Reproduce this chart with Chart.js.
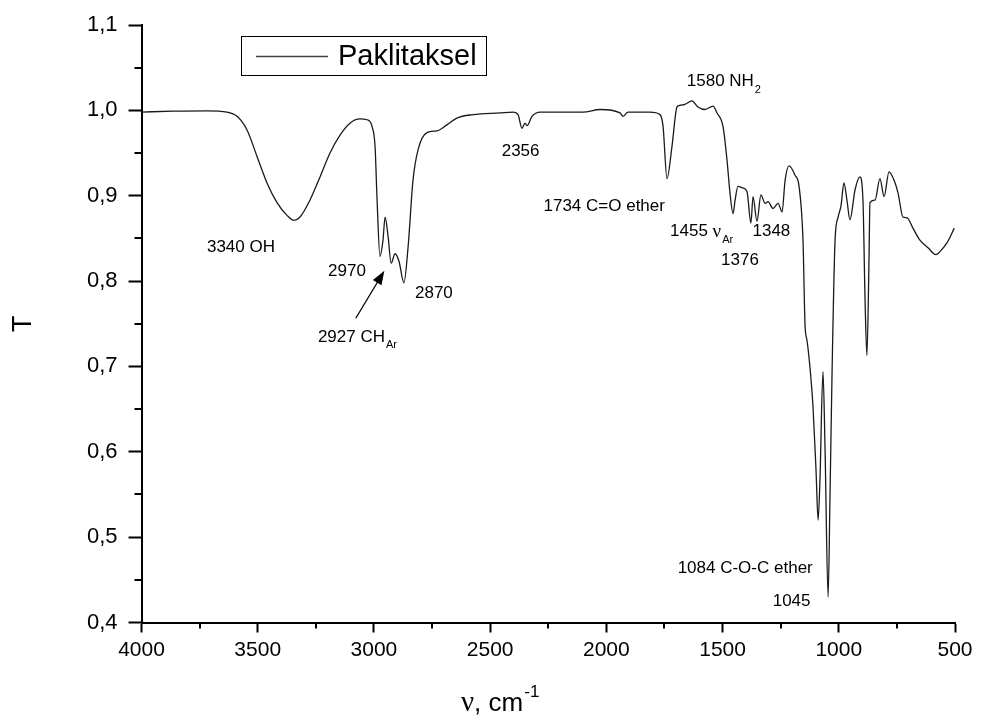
<!DOCTYPE html>
<html>
<head>
<meta charset="utf-8">
<title>Paklitaksel</title>
<script src="https://cdn.jsdelivr.net/npm/chart.js@4.4.1/dist/chart.umd.min.js"></script>
<style>
  html, body { margin: 0; padding: 0; background: #fff; }
  canvas { display: block; }
</style>
</head>
<body>
<canvas id="ir" width="981" height="722"></canvas>
<script>
// IR spectrum: wavenumber (cm-1) and transmittance
var wavenumber = [
  4000, 3864, 3718, 3632, 3589, 3546, 3503, 3460, 3417, 3374, 3344, 3318, 3275, 3232, 3189, 3146,
  3103, 3060, 3030, 3008, 2995, 2987, 2974, 2961, 2952, 2939, 2926, 2909, 2892, 2871, 2853, 2832,
  2810, 2772, 2729, 2686, 2643, 2574, 2458, 2402, 2380, 2363, 2350, 2341, 2320, 2285, 2242, 2199,
  2100, 2027, 1941, 1928, 1907, 1812, 1769, 1756, 1739, 1718, 1696, 1683, 1662, 1632, 1606, 1576,
  1541, 1524, 1498, 1481, 1468, 1455, 1446, 1434, 1412, 1395, 1378, 1369, 1352, 1335, 1317, 1304,
  1283, 1261, 1244, 1231, 1214, 1188, 1171, 1154, 1145, 1137, 1124, 1111, 1098, 1089, 1081, 1068,
  1059, 1046, 1038, 1029, 1016, 1003, 990, 978, 965, 952, 930, 909, 896, 887, 879, 870,
  866, 844, 823, 805, 784, 762, 745, 724, 706, 681, 651, 616, 582, 560, 534, 503
];
var transmittance = [
  0.998, 0.999, 0.9995, 0.998, 0.993, 0.977, 0.946, 0.915, 0.892, 0.877, 0.871, 0.875, 0.895, 0.922, 0.950, 0.971,
  0.985, 0.990, 0.989, 0.981, 0.957, 0.899, 0.829, 0.848, 0.875, 0.852, 0.821, 0.832, 0.823, 0.798, 0.840, 0.918,
  0.954, 0.974, 0.976, 0.983, 0.991, 0.995, 0.997, 0.998, 0.995, 0.979, 0.985, 0.982, 0.993, 0.998, 0.998, 0.998,
  0.998, 1.001, 0.997, 0.993, 0.998, 0.998, 0.995, 0.981, 0.920, 0.957, 1.004, 1.006, 1.007, 1.011, 1.004, 1.001,
  1.005, 0.997, 0.981, 0.942, 0.903, 0.879, 0.895, 0.911, 0.909, 0.905, 0.868, 0.899, 0.870, 0.901, 0.891, 0.893,
  0.885, 0.891, 0.881, 0.918, 0.935, 0.924, 0.911, 0.848, 0.747, 0.731, 0.699, 0.653, 0.579, 0.520, 0.567, 0.694,
  0.602, 0.430, 0.544, 0.692, 0.848, 0.875, 0.889, 0.915, 0.895, 0.872, 0.907, 0.922, 0.895, 0.778, 0.713, 0.825,
  0.892, 0.895, 0.920, 0.899, 0.928, 0.918, 0.903, 0.875, 0.874, 0.862, 0.848, 0.839, 0.831, 0.836, 0.845, 0.862
];
var seriesName = "Paklitaksel";

var xMinorTicks = [3750, 3250, 2750, 2250, 1750, 1250, 750];
var yMinorTicks = [0.45, 0.55, 0.65, 0.75, 0.85, 0.95, 1.05];

var SANS = '"Liberation Sans", Arial, sans-serif';
var SERIF = '"Liberation Serif", "Times New Roman", serif';

// peak labels, anchored in data units
var peakLabels = [
  { wn: 3572, t: 0.839, align: "center", parts: [{ s: "3340 OH" }] },
  { wn: 3116, t: 0.811, align: "center", parts: [{ s: "2970" }] },
  { wn: 2742, t: 0.786, align: "center", parts: [{ s: "2870" }] },
  { wn: 3241, t: 0.7345, align: "left", parts: [{ s: "2927 CH" }, { s: "Ar", sub: true }] },
  { wn: 2369, t: 0.9516, align: "center", parts: [{ s: "2356" }] },
  { wn: 1748, t: 0.888, align: "right", parts: [{ s: "1734 C=O ether" }] },
  { wn: 1654, t: 1.0336, align: "left", parts: [{ s: "1580 NH" }, { s: "2", sub: true }] },
  { wn: 1726, t: 0.858, align: "left", parts: [{ s: "1455 " }, { s: "ν", serif: true }, { s: "Ar", sub: true }] },
  { wn: 1290, t: 0.858, align: "center", parts: [{ s: "1348" }] },
  { wn: 1425, t: 0.8247, align: "center", parts: [{ s: "1376" }] },
  { wn: 1112, t: 0.4635, align: "right", parts: [{ s: "1084 C-O-C ether" }] },
  { wn: 1203, t: 0.4244, align: "center", parts: [{ s: "1045" }] }
];

function partFont(p) {
  if (p.sub) return "11px " + SANS;
  if (p.serif) return "19px " + SERIF;
  return "17px " + SANS;
}

function drawParts(ctx, parts, x, y, align) {
  var total = 0;
  parts.forEach(function (p) {
    ctx.font = partFont(p);
    total += ctx.measureText(p.s).width + (p.sub ? 1 : 0);
  });
  var cx = x;
  if (align === "center") cx = x - total / 2;
  if (align === "right") cx = x - total;
  ctx.textAlign = "left";
  ctx.textBaseline = "middle";
  parts.forEach(function (p) {
    ctx.font = partFont(p);
    if (p.sub) cx += 1;
    ctx.fillText(p.s, cx, p.sub ? y + 8 : y);
    cx += ctx.measureText(p.s).width;
  });
}

var decorPlugin = {
  id: "decor",
  afterDraw: function (chart) {
    var ctx = chart.ctx;
    var xs = chart.scales.x, ys = chart.scales.y;
    var area = chart.chartArea;
    ctx.save();
    ctx.fillStyle = "#000";
    ctx.strokeStyle = "#000";

    // minor ticks
    ctx.lineWidth = 2;
    ctx.beginPath();
    xMinorTicks.forEach(function (v) {
      var px = Math.round(xs.getPixelForValue(v));
      ctx.moveTo(px, area.bottom);
      ctx.lineTo(px, area.bottom + 6);
    });
    yMinorTicks.forEach(function (v) {
      var py = Math.round(ys.getPixelForValue(v));
      ctx.moveTo(area.left - 7, py);
      ctx.lineTo(area.left, py);
    });
    ctx.stroke();

    // peak labels
    peakLabels.forEach(function (l) {
      drawParts(ctx, l.parts, xs.getPixelForValue(l.wn), ys.getPixelForValue(l.t), l.align);
    });

    // arrow to the 2927 band
    var x0 = xs.getPixelForValue(3078), y0 = ys.getPixelForValue(0.7564);
    var x1 = xs.getPixelForValue(2955), y1 = ys.getPixelForValue(0.8122);
    var ang = Math.atan2(y1 - y0, x1 - x0);
    ctx.lineWidth = 1.3;
    ctx.beginPath();
    ctx.moveTo(x0, y0);
    ctx.lineTo(x1 - 10 * Math.cos(ang), y1 - 10 * Math.sin(ang));
    ctx.stroke();
    ctx.beginPath();
    ctx.moveTo(x1, y1);
    ctx.lineTo(x1 - 14 * Math.cos(ang) + 5 * Math.sin(ang), y1 - 14 * Math.sin(ang) - 5 * Math.cos(ang));
    ctx.lineTo(x1 - 14 * Math.cos(ang) - 5 * Math.sin(ang), y1 - 14 * Math.sin(ang) + 5 * Math.cos(ang));
    ctx.closePath();
    ctx.fill();

    // legend box
    var lx = area.left + 99.5, ly = area.top + 11;
    ctx.lineWidth = 1;
    ctx.strokeRect(lx + 0.5, ly + 0.5, 245, 39);
    ctx.strokeStyle = "#444";
    ctx.lineWidth = 1.5;
    ctx.beginPath();
    ctx.moveTo(lx + 15, ly + 20.5);
    ctx.lineTo(lx + 87, ly + 20.5);
    ctx.stroke();
    ctx.font = "29px " + SANS;
    ctx.textAlign = "left";
    ctx.textBaseline = "middle";
    ctx.fillText(seriesName, lx + 97, ly + 21);

    // axis titles
    ctx.save();
    ctx.translate(24, (area.top + area.bottom) / 2);
    ctx.rotate(-Math.PI / 2);
    ctx.font = "27px " + SANS;
    ctx.textAlign = "center";
    ctx.textBaseline = "middle";
    ctx.fillText("T", 0, 0);
    ctx.restore();

    var tx = 461, tyBase = 711;
    ctx.textAlign = "left";
    ctx.textBaseline = "alphabetic";
    ctx.font = "29px " + SERIF;
    ctx.fillText("ν", tx, tyBase);
    tx += ctx.measureText("ν").width;
    ctx.font = "26px " + SANS;
    ctx.fillText(", cm", tx, tyBase);
    tx += ctx.measureText(", cm").width + 1;
    ctx.font = "17px " + SANS;
    ctx.fillText("-1", tx, tyBase - 14);

    ctx.restore();
  }
};

var points = wavenumber.map(function (w, i) {
  return { x: w, y: transmittance[i] };
});

var ir = new Chart(document.getElementById("ir"), {
  type: "line",
  data: {
    datasets: [
      {
        label: seriesName,
        data: points,
        borderColor: "#1a1a1a",
        borderWidth: 1.3,
        pointRadius: 0,
        fill: false,
        cubicInterpolationMode: "monotone",
      },
    ],
  },
  options: {
    responsive: false,
    animation: false,
    devicePixelRatio: 1,
    layout: { padding: { top: 25, right: 26, left: 0, bottom: 0 } },
    plugins: {
      legend: { display: false },
      tooltip: { enabled: false },
    },
    scales: {
      x: {
        type: "linear",
        reverse: true,
        min: 500,
        max: 4000,
        afterFit: function (s) { s.height = 99.5; },
        ticks: {
          stepSize: 500,
          color: "#000",
          padding: 5,
          maxRotation: 0,
          font: { size: 21, family: SANS },
          callback: function (v) { return String(v); },
        },
        grid: { drawOnChartArea: false, tickLength: 10, tickWidth: 2, tickColor: "#000" },
        border: { color: "#000", width: 2 },
      },
      y: {
        min: 0.4,
        max: 1.1,
        afterFit: function (s) { s.width = 141.5; },
        ticks: {
          stepSize: 0.1,
          color: "#000",
          padding: 11,
          font: { size: 22, family: SANS },
          callback: function (v) { return v.toFixed(1).replace(".", ","); },
        },
        grid: { drawOnChartArea: false, tickLength: 13, tickWidth: 2, tickColor: "#000" },
        border: { color: "#000", width: 2 },
      },
    },
  },
  plugins: [decorPlugin],
});
</script>
</body>
</html>
